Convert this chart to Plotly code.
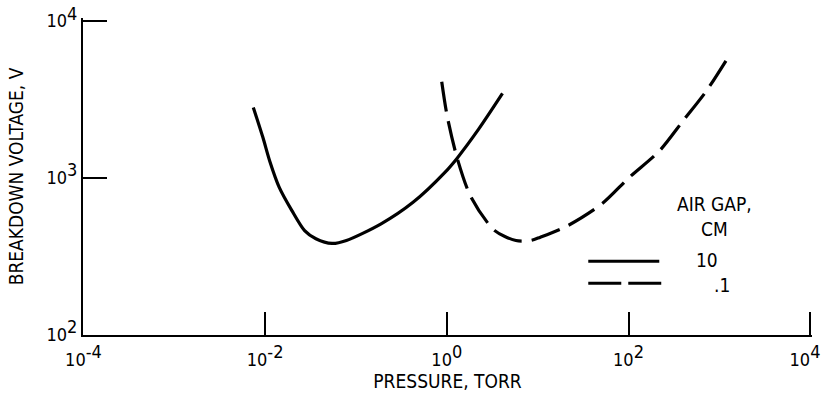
import plotly.graph_objects as go

# Solid curve: air gap 10 cm
gap10_pressure = [0.00741, 0.00944, 0.0112, 0.0143, 0.0197, 0.0272, 0.0362, 0.0546,
                  0.0785, 0.189, 0.425, 0.953, 1.30, 2.25, 4.10]
gap10_voltage = [2810, 1810, 1284, 867, 616, 459, 407, 380, 397, 507, 696, 1081,
                 1333, 2048, 3450]

# Dashed curve: air gap .1 cm
gap01_pressure = [0.879, 1.007, 1.30, 1.85, 3.37, 5.77, 8.39, 10.7, 21.5, 50.8,
                  102, 220, 399, 723, 1253]
gap01_voltage = [4100, 2490, 1333, 749, 459, 397, 397, 417, 494, 679, 1004, 1488,
                 2311, 3593, 5888]

x_tickvals = [1e-4, 1e-2, 1, 1e2, 1e4]
x_ticktext = ["-4", "-2", "0", "2", "4"]
y_tickvals = [1e2, 1e3, 1e4]
y_ticktext = ["2", "3", "4"]

SANS = "Liberation Sans Narrow, DejaVu Sans Condensed, Arial Narrow, sans-serif"


def pow10(e, pad=""):
    return '10<sup><span style="font-size:18px">%s</span></sup>%s' % (e, pad)


x_labels = [pow10(t) for t in x_ticktext]
x_labels[-1] = pow10(x_ticktext[-1], "\u00a0\u00a0")  # keep last label inside the page

fig = go.Figure()
fig.add_trace(go.Scatter(x=gap10_pressure, y=gap10_voltage, mode="lines",
                         line=dict(color="black", width=3.2, shape="spline", smoothing=0.8),
                         name="10", showlegend=False))
fig.add_trace(go.Scatter(x=gap01_pressure, y=gap01_voltage, mode="lines",
                         line=dict(color="black", width=3.2, shape="spline", smoothing=0.8,
                                   dash="30px,10px"),
                         name=".1", showlegend=False))

fig.update_layout(
    width=825, height=396,
    margin=dict(l=82.5, r=13.2, t=17.9, b=61.2, autoexpand=False),
    paper_bgcolor="white", plot_bgcolor="white",
    font=dict(family=SANS, color="black", size=19),
    xaxis=dict(type="log", range=[-4.005, 4.02], showgrid=False, zeroline=False,
               automargin=False, ticklabeloverflow="allow", ticklabelstandoff=7,
               showline=True, linecolor="black", linewidth=2,
               ticks="inside", ticklen=23, tickwidth=2, tickcolor="black",
               tickvals=x_tickvals, ticktext=x_labels,
               tickfont=dict(size=18, family=SANS),
               title=dict(text="PRESSURE, TORR", font=dict(size=19, family=SANS), standoff=6)),
    yaxis=dict(type="log", range=[1.995, 4.02], showgrid=False, zeroline=False,
               automargin=False, ticklabeloverflow="allow",
               showline=True, linecolor="black", linewidth=2,
               ticks="inside", ticklen=24, tickwidth=2, tickcolor="black",
               tickvals=y_tickvals, ticktext=[pow10(t) for t in y_ticktext],
               tickfont=dict(size=18, family=SANS),
               title=dict(text="BREAKDOWN VOLTAGE, V", font=dict(size=19, family=SANS), standoff=18)),
)

# Legend drawn manually
fig.add_shape(type="line", xref="paper", yref="paper", x0=0.6931, x1=0.7905, y0=0.2329, y1=0.2329,
              line=dict(color="black", width=3))
fig.add_shape(type="line", xref="paper", yref="paper", x0=0.6931, x1=0.7932, y0=0.1635, y1=0.1635,
              line=dict(color="black", width=3, dash="33px,7px"))
fig.add_annotation(xref="paper", yref="paper", x=0.8659, y=0.3733, text="AIR GAP,<br>CM",
                   xanchor="center", yanchor="middle",
                   showarrow=False, font=dict(size=19, family=SANS), align="center")
fig.add_annotation(xref="paper", yref="paper", x=0.8558, y=0.2360, text="10",
                   xanchor="center", yanchor="middle",
                   showarrow=False, font=dict(size=19, family=SANS))
fig.add_annotation(xref="paper", yref="paper", x=0.8768, y=0.1571, text=".1",
                   xanchor="center", yanchor="middle",
                   showarrow=False, font=dict(size=19, family=SANS))

fig.write_html("out.html", config={"displayModeBar": False},
               post_script="document.body.style.margin='0';document.body.style.padding='0';")
